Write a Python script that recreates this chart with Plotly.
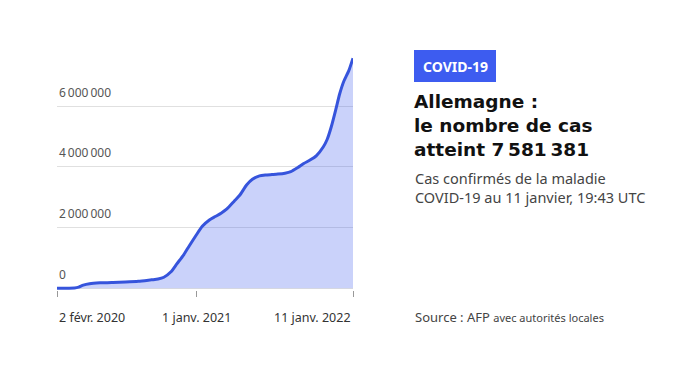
import plotly.graph_objects as go

# ---- data ----
dates = ["2020-02-02", "2020-03-01", "2020-03-15", "2020-03-25", "2020-04-05", "2020-04-20",
         "2020-05-15", "2020-06-15", "2020-07-15", "2020-08-15", "2020-09-15", "2020-10-01",
         "2020-10-15", "2020-11-01", "2020-11-15", "2020-12-01", "2020-12-15", "2021-01-01",
         "2021-01-15", "2021-02-01", "2021-02-15", "2021-03-01", "2021-03-15", "2021-04-01",
         "2021-04-15", "2021-05-01", "2021-05-15", "2021-06-01", "2021-06-15", "2021-07-01",
         "2021-07-15", "2021-08-01", "2021-08-15", "2021-09-01", "2021-09-15", "2021-10-01",
         "2021-10-15", "2021-11-01", "2021-11-10", "2021-11-20", "2021-12-01", "2021-12-10",
         "2021-12-20", "2022-01-01", "2022-01-11"]
cases = [10, 130, 5800, 37000, 100000, 145000,
         175000, 190000, 202000, 225000, 275000, 300000,
         360000, 540000, 800000, 1090000, 1400000, 1760000,
         2040000, 2250000, 2360000, 2470000, 2610000, 2860000,
         3070000, 3400000, 3590000, 3700000, 3730000, 3745000,
         3760000, 3790000, 3840000, 3980000, 4110000, 4230000,
         4360000, 4660000, 4900000, 5320000, 5900000, 6400000,
         6820000, 7170000, 7581381]

x_tick_vals = ["2020-02-02", "2021-01-01", "2022-01-11"]
x_tick_text = ["2 févr. 2020", "1 janv. 2021", "11 janv. 2022"]
x_tick_anchor = ["left", "center", "right"]
y_tick_vals = [0, 2000000, 4000000, 6000000]
y_tick_text = ["0", "2\u2009000\u2009000", "4\u2009000\u2009000", "6\u2009000\u2009000"]

badge_text = "COVID-19"
title_lines = ["Allemagne :", "le nombre de cas", "atteint 7\u2009581\u2009381"]
subtitle_lines = ["Cas confirmés de la maladie", "COVID-19 au 11 janvier, 19:43 UTC"]

LINE = "#3654DC"
FILL = "rgba(58,88,236,0.27)"
BADGE = "#3D5CF0"
FONT = "Noto Sans"

OFF = 8  # page body margin
W, H = 676 - 2 * OFF, 372 - 2 * OFF
ML, MR, MT, MB = 57 - OFF, 323 - OFF, 50 - OFF, 82 - OFF
PW, PH = W - ML - MR, H - MT - MB

def px(x):
    return (x - OFF - ML) / PW

def py(y):
    return (H - MB - (y - OFF)) / PH

fig = go.Figure()
fig.add_trace(go.Scatter(
    x=dates, y=cases, mode="lines", line=dict(color=LINE, width=3, shape="spline", smoothing=0.6),
    fill="tozeroy", fillcolor=FILL, hoverinfo="skip", showlegend=False))

annotations = []
for v, t, a in zip(x_tick_vals, x_tick_text, x_tick_anchor):
    annotations.append(dict(x=v, xref="x", y=py(317), yref="paper", text=t, showarrow=False,
                            xanchor=a, yanchor="middle", font=dict(family=FONT, size=12.5, color="#333")))
for v, t in zip(y_tick_vals, y_tick_text):
    annotations.append(dict(x=0, xref="paper", y=v, yref="y", text=t, showarrow=False,
                            xanchor="left", yanchor="middle", yshift=14,
                            font=dict(family=FONT, size=12, color="#555")))

# badge
fig.add_shape(type="rect", xref="paper", yref="paper", x0=px(414), x1=px(496), y0=py(82), y1=py(50),
              fillcolor=BADGE, line=dict(width=0), layer="above")
annotations.append(dict(x=px(455), y=py(66.5), xref="paper", yref="paper", text="<b>" + badge_text + "</b>",
                        showarrow=False, xanchor="center", yanchor="middle",
                        font=dict(family=FONT, size=14, color="white")))
annotations.append(dict(x=px(412), y=py(125), xref="paper", yref="paper",
                        text="<br>".join("<b>" + t + "</b>" for t in title_lines),
                        showarrow=False, xanchor="left", yanchor="middle", align="left",
                        font=dict(family="DejaVu Sans", size=18.5, color="#111")))
annotations.append(dict(x=px(413), y=py(187), xref="paper", yref="paper",
                        text="<br>".join(subtitle_lines),
                        showarrow=False, xanchor="left", yanchor="middle", align="left",
                        font=dict(family=FONT, size=14.5, color="#444")))
annotations.append(dict(x=px(413), y=py(317), xref="paper", yref="paper",
                        text="Source : AFP <span style='font-size:11px'>avec autorités locales</span>",
                        showarrow=False, xanchor="left", yanchor="middle",
                        font=dict(family=FONT, size=13, color="#444")))

fig.update_layout(
    width=W, height=H, margin=dict(l=ML, r=MR, t=MT, b=MB),
    paper_bgcolor="white", plot_bgcolor="white",
    font=dict(family=FONT),
    annotations=annotations,
    xaxis=dict(type="date", range=["2020-02-02", "2022-01-11"], tickvals=x_tick_vals,
               ticktext=["", "", ""], ticks="outside", ticklen=6, tickcolor="#999", tickwidth=1,
               showgrid=False, zeroline=False, showline=False, fixedrange=True),
    yaxis=dict(range=[-60000, 7850000], tickvals=y_tick_vals, showticklabels=False,
               showgrid=True, gridcolor="#e0e0e0", gridwidth=1,
               zeroline=False, showline=False, ticks="", fixedrange=True),
)

fig.write_html("out.html")
